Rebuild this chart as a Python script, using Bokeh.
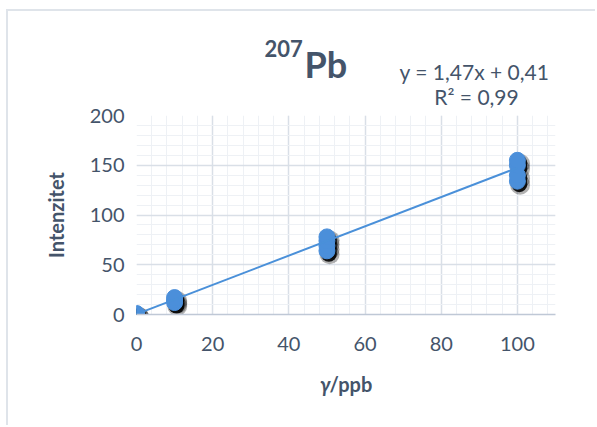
from bokeh.plotting import figure
from bokeh.models import Range1d, FixedTicker, Label
from bokeh.embed import file_html
from bokeh.resources import INLINE
import numpy as np

# ---- data ----
conc_ppb = [0, 0, 0, 10, 10, 10, 50, 50, 50, 50, 100, 100, 100, 100]
intensity = [0, 0.5, 1, 12, 14.5, 17, 64, 69, 74, 78, 134, 140, 150, 155]
slope = 1.47
intercept = 0.41
x_ticks = [0, 20, 40, 60, 80, 100]
y_ticks = [0, 50, 100, 150, 200]
x_minor = list(range(0, 112, 4))
y_minor = list(range(0, 201, 10))
title_sup = "207"
title_main = "Pb"
eq_text = "y = 1,47x + 0,41"
r2_text = "R² = 0,99"
y_label = "Intenzitet"
x_label_sym = "γ"
x_label_unit = "/ppb"

TXT = "#44546A"
FONT = "Lato"

p = figure(width=589, height=416, output_backend="svg", toolbar_location=None,
           x_range=Range1d(0, 110), y_range=Range1d(0, 200),
           min_border_left=128, min_border_right=42, min_border_top=104, min_border_bottom=113,
           background_fill_color="white", border_fill_color="white")
p.outline_line_color = None
p.styles = {"margin-left": "6px", "margin-top": "9px",
            "border-left": "2px solid #DFE4EA", "border-top": "2px solid #DFE4EA"}

p.xaxis.ticker = FixedTicker(ticks=x_ticks, minor_ticks=x_minor)
p.yaxis.ticker = FixedTicker(ticks=y_ticks, minor_ticks=y_minor)

for ax in (p.xaxis, p.yaxis):
    ax.major_tick_line_color = None
    ax.minor_tick_line_color = None
    ax.major_tick_out = 0
    ax.major_tick_in = 0
    ax.minor_tick_out = 0
    ax.major_label_text_font = FONT
    ax.major_label_text_font_size = "20px"
    ax.major_label_text_color = TXT
    ax.axis_label_text_font = FONT
    ax.axis_label_text_font_size = "20px"
    ax.axis_label_text_font_style = "bold"
    ax.axis_label_text_color = TXT

p.xaxis.axis_line_color = "#BFC8D6"
p.xaxis.axis_line_width = 1.5
p.yaxis.axis_line_color = None
p.xaxis.major_label_standoff = 22
p.yaxis.major_label_standoff = 12
p.yaxis.axis_label = y_label
p.yaxis.axis_label_standoff = 19

for g in (p.xgrid, p.ygrid):
    g.grid_line_color = "#D9DFE7"
    g.grid_line_width = 1.5
    g.minor_grid_line_color = "#EEF1F5"
    g.minor_grid_line_width = 1

xs = np.array(conc_ppb, dtype=float)
ys = np.array(intensity, dtype=float)

# soft shadows
p.scatter(xs + 0.7, ys - 3.5, size=20, fill_color="black", line_color=None, fill_alpha=0.3)
p.scatter(xs + 0.5, ys - 3.0, size=16, fill_color="black", line_color=None, fill_alpha=0.9)
# points
p.scatter(xs, ys, size=16, fill_color="#4B8FDA", line_color="#4B8FDA", line_width=1)

fit_x = np.array([xs.min(), xs.max()])
fit_y = slope * fit_x + intercept
p.line(fit_x, fit_y, line_color="#4A90D9", line_width=2)

# ---- transparent text overlay (page pixel coordinates), separate root ----
W, H = 597, 427
t = figure(width=W, height=H, output_backend="svg", toolbar_location=None, title=None,
           x_range=Range1d(0, W), y_range=Range1d(H, 0),
           x_axis_type=None, y_axis_type=None, min_border=0)
t.grid.visible = False
t.outline_line_color = None
t.background_fill_alpha = 0
t.border_fill_alpha = 0
t.styles = {"position": "absolute", "left": "0px", "top": "0px", "pointer-events": "none"}

def lab(text, x, y, size, style="normal", align="left"):
    t.add_layout(Label(x=x, y=y, text=text,
                       text_font=FONT, text_font_size=size, text_font_style=style,
                       text_color=TXT, text_align=align, text_baseline="alphabetic"))

lab(title_sup, 264, 48, "22px", "bold")
lab(title_main, 304, 63, "36px", "bold")
lab(eq_text, 474, 71, "21px", align="center")
lab(r2_text, 476, 96, "21px", align="center")
lab(x_label_sym, 330, 383, "20px", "bold italic", align="right")
lab(x_label_unit, 329, 383, "20px", "bold", align="left")

open("out.html", "w").write(file_html([p, t], INLINE))
